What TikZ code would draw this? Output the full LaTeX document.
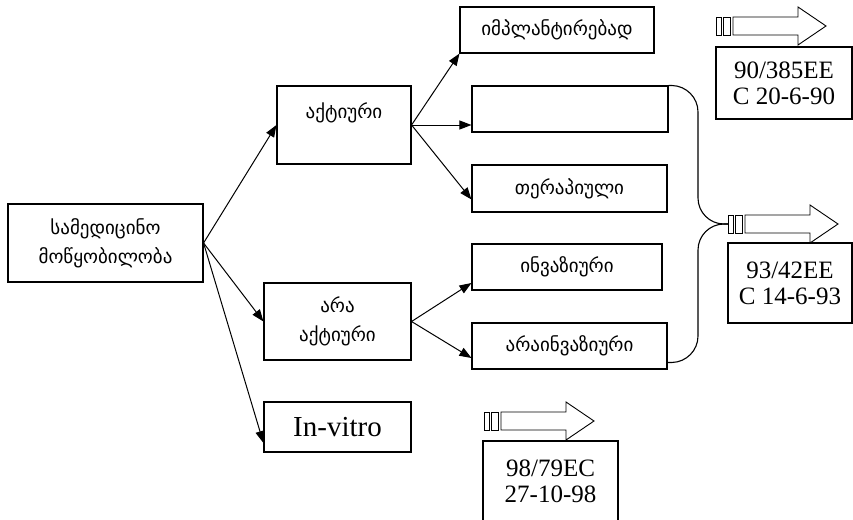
\documentclass[tikz,border=0pt]{standalone}
\usepackage{fontspec}
\setmainfont{Liberation Serif}
\newfontfamily\geofont{DejaVu Sans}
\usetikzlibrary{arrows.meta}

\tikzset{
  box/.style={draw, line width=1.1pt, inner sep=0pt, align=center},
  geo/.style={box, font=\geofont\fontsize{19}{29}\selectfont},
  lat/.style={box, font=\fontsize{25}{26}\selectfont},
  arr/.style={line width=1pt, -{Triangle[length=12pt,width=9pt]}},
  link/.style={line width=1.1pt, rounded corners=26pt},
  regarrow/.pic={
    \draw[line width=0.9pt] (0,-9) rectangle (5,9);
    \draw[line width=0.9pt] (7,-9) rectangle (14,9);
    \draw[line width=0.9pt] (17,-9) -- (82,-9) -- (82,-19) -- (110,0)
      -- (82,19) -- (82,9) -- (17,9) -- cycle;
  }
}

\begin{document}
\begin{tikzpicture}[x=1pt, y=-1pt]
\useasboundingbox (0,0) rectangle (853,519);
% Device classes
\node[geo, minimum width=195pt, minimum height=78pt] (med) at (105.5,243)
  {სამედიცინო\\მოწყობილობა};
\node[geo, minimum width=134pt, minimum height=78pt] (active) at (344,125)
  {აქტიური\\\mbox{}};
\node[geo, minimum width=147pt, minimum height=77pt] (inactive) at (337.5,321.5)
  {არა\\აქტიური};
\node[lat, minimum width=147pt, minimum height=50pt, font=\fontsize{29}{30}\selectfont]
  (invitro) at (337.5,427) {In-vitro};
% Sub classes
\node[geo, minimum width=194pt, minimum height=46pt] (implant) at (557,30) {იმპლანტირებად};
\node[box, minimum width=196pt, minimum height=46pt] (empty) at (570,109) {};
\node[geo, minimum width=195pt, minimum height=47pt] (therapy) at (569.5,188.5) {თერაპიული};
\node[geo, minimum width=190pt, minimum height=46pt] (invasive) at (567,267) {ინვაზიური};
\node[geo, minimum width=195pt, minimum height=46pt] (noninv) at (569.5,346) {არაინვაზიური};
% Directives
\coordinate (d1) at (716,26);
\coordinate (d2) at (728,224);
\coordinate (d3) at (484,421);
\pic at (d1) {regarrow};
\pic at (d2) {regarrow};
\pic at (d3) {regarrow};
\node[lat, minimum width=136pt, minimum height=72pt] (dir1) at (784,83) {90/385EE\\C 20-6-90};
\node[lat, minimum width=124pt, minimum height=80pt] (dir2) at (790,283) {93/42EE\\C 14-6-93};
\node[lat, minimum width=135pt, minimum height=80pt] (dir3) at (550.5,481) {98/79EC\\27-10-98};
% Arrows
\draw[arr] (med.east) -- (active.west);
\draw[arr] (med.east) -- (inactive.west);
\draw[arr] (med.east) -- ([yshift=-16pt]invitro.west);
\draw[arr] (active.east) -- (implant.south west);
\draw[arr] (active.east) -- (active.east -| empty.west);
\draw[arr] (active.east) -- ([yshift=-11pt]therapy.west);
\draw[arr] (inactive.east) -- ([yshift=-16pt]invasive.west);
\draw[arr] (inactive.east) -- ([yshift=-12pt]noninv.west);
% Links to 93/42EE
\draw[link] (empty.north east) -- (698,86) -- (698,224) -- (d2);
\draw[link] (d2) -- (698,224) -- (698,362) -- ([yshift=7pt]noninv.south east);
\end{tikzpicture}
\end{document}
